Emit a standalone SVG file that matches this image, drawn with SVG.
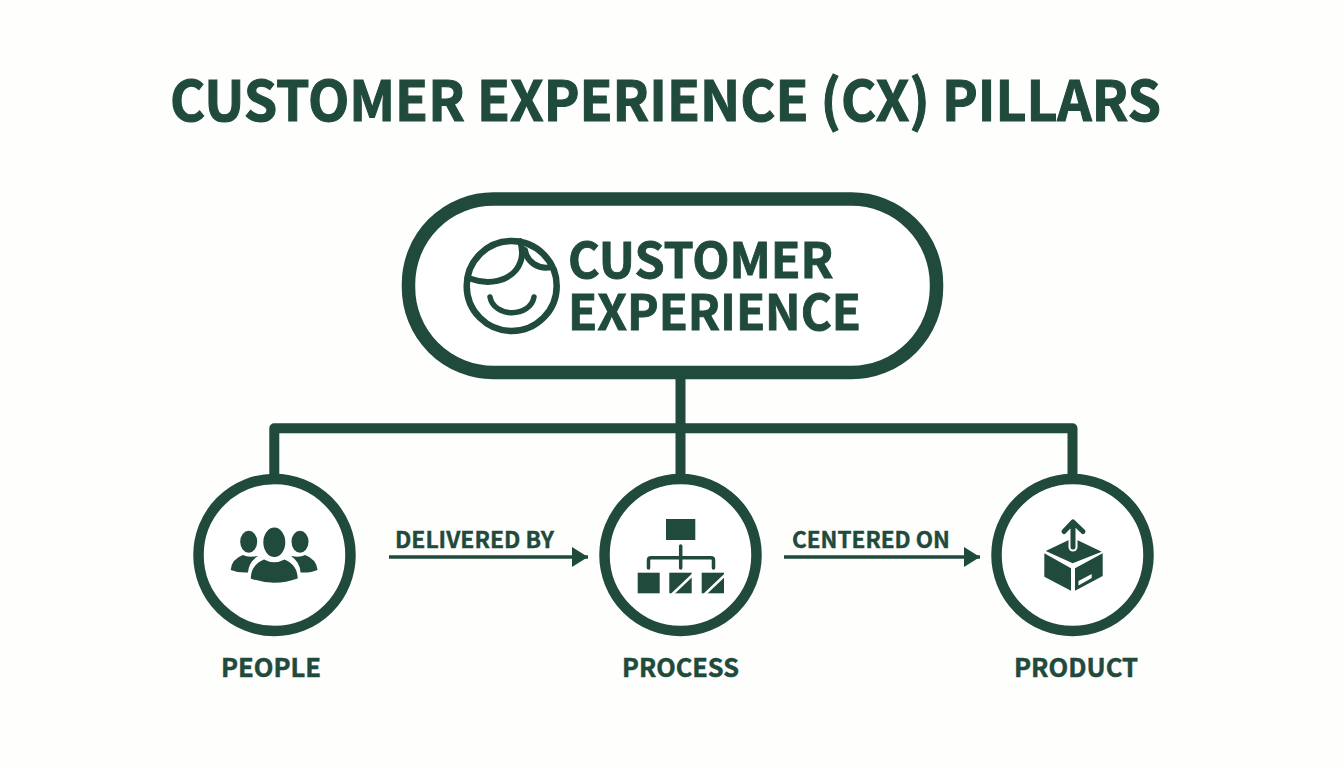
<svg xmlns="http://www.w3.org/2000/svg" width="1344" height="768" viewBox="0 0 1344 768">
<style>
text{font-family:"Noto Sans CJK SC","Noto Sans","Liberation Sans",sans-serif;font-weight:700;fill:#1f4a3c;stroke:#1f4a3c}
.title{font-size:56px;stroke-width:1.1px}
.main{font-size:49px;stroke-width:.9px}
.edge{font-size:23px;stroke-width:.4px}
.label{font-size:26px;stroke-width:.5px}
.conn{fill:none;stroke:#1f4a3c;stroke-width:10;stroke-linejoin:round}
.arrow{fill:none;stroke:#1f4a3c;stroke-width:3.5;marker-end:url(#head)}
.ring{fill:#fff;stroke:#1f4a3c;stroke-width:10.5}
.ink{fill:#1f4a3c}
.gap{stroke:#fff;fill:none}
.thin{fill:none;stroke:#1f4a3c;stroke-linecap:round;stroke-linejoin:round}
</style>
<defs>
<marker id="head" markerUnits="userSpaceOnUse" markerWidth="17" markerHeight="21" refX="16" refY="10" orient="auto"><path d="M0 0L16 10L0 20Z" fill="#1f4a3c"/></marker>
</defs>
<rect width="1344" height="768" fill="#fefefd"/>
<text class="title" x="170" y="121" textLength="991" lengthAdjust="spacingAndGlyphs">CUSTOMER EXPERIENCE (CX) PILLARS</text>
<g id="connectors">
<path class="conn" d="M680.5 375V478M274.3 478V428.3H1072.5V478"/>
<path class="arrow" d="M389 557H588"/>
<path class="arrow" d="M784 557H980"/>
</g>
<text class="edge" x="395" y="548" textLength="159" lengthAdjust="spacingAndGlyphs">DELIVERED BY</text>
<text class="edge" x="792" y="548" textLength="158" lengthAdjust="spacingAndGlyphs">CENTERED ON</text>
<g id="customer-experience">
<rect x="408.5" y="199" width="528" height="173.5" rx="85" fill="#fff" stroke="#1f4a3c" stroke-width="13.5"/>
<circle class="thin" cx="511.7" cy="286" r="45" stroke-width="6.5"/>
<path class="thin" stroke-width="6" d="M470 278.5C490 286 508 280 516 270C523 261 523 250 520 241"/>
<path class="thin" stroke-width="6" d="M525 250C527 262 538 270 552 267"/>
<path class="thin" stroke-width="5.5" d="M490 297C494 318 530 318 534 297"/>
<text class="main"><tspan x="568" y="278" textLength="265.500" lengthAdjust="spacingAndGlyphs">CUSTOMER</tspan><tspan x="568" y="330" textLength="293" lengthAdjust="spacingAndGlyphs">EXPERIENCE</tspan></text>
</g>
<g id="people">
<circle class="ring" cx="274.5" cy="555" r="76"/>
<ellipse class="ink" cx="274.3" cy="542.3" rx="11" ry="14.7"/>
<ellipse class="ink" cx="248.7" cy="541.7" rx="8.5" ry="11"/>
<ellipse class="ink" cx="300" cy="541.7" rx="8.5" ry="11"/>
<path class="ink" d="M250.7 578.5Q251 565 264 559.5Q274.3 565 284.5 559.5Q297.5 565 297.7 578.5Q274.3 587 250.7 578.5Z"/>
<path class="ink" d="M230.7 570Q231.5 559 243 555Q248 558 258 556Q248.5 562 248 572.5Q238 573 230.7 570Z"/>
<path class="ink" d="M317.5 570Q316.5 559 305 555Q300 558 291 556Q300 562 300.5 572.5Q311 573 317.5 570Z"/>
<text class="label" x="221" y="677" textLength="100" lengthAdjust="spacingAndGlyphs">PEOPLE</text>
</g>
<g id="process">
<circle class="ring" cx="680.5" cy="555" r="76"/>
<rect class="ink" x="666" y="519" width="29.3" height="21"/>
<path class="thin" stroke-width="3.5" d="M680.7 546V568M648.5 568V560Q648.5 557.7 651 557.7H711Q713.5 557.7 713.5 560V568"/>
<rect class="ink" x="637.7" y="572.7" width="22" height="20.6"/>
<rect class="ink" x="669.3" y="572.7" width="22.4" height="20.6"/>
<rect class="ink" x="701.7" y="572.7" width="22.3" height="20.6"/>
<path class="gap" stroke-width="2.5" d="M672 594.5L693 574.5M704.5 594.5L725.5 574.5"/>
<text class="label" x="622" y="677" textLength="117" lengthAdjust="spacingAndGlyphs">PROCESS</text>
</g>
<g id="product">
<circle class="ring" cx="1072.5" cy="555" r="76"/>
<path class="ink" d="M1073 538L1101.7 551.7L1072.7 563.3L1045.7 551Z"/>
<path class="ink" d="M1044.3 553.3L1071 568.3V590.7L1044.3 576.7Z"/>
<path class="ink" d="M1075 568.3L1102.7 553.3V576L1075 590.7Z"/>
<path fill="#fff" d="M1078.5 585.5L1091.7 578V574L1078.5 581Z"/>
<path class="gap" stroke-width="9" stroke-linecap="round" d="M1073 527V547"/>
<path class="thin" stroke-width="5" d="M1073 524V547M1064 531.5L1073 522L1083 531.5"/>
<text class="label" x="1014" y="677" textLength="124" lengthAdjust="spacingAndGlyphs">PRODUCT</text>
</g>
</svg>
